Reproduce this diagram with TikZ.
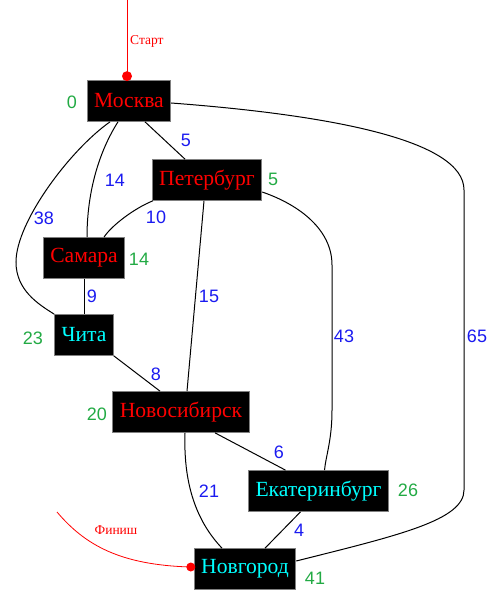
\documentclass[tikz,border=0pt]{standalone}
\usepackage{fontspec}
\setmainfont{Liberation Serif}
\newfontfamily\numfont{Liberation Sans}
\usepackage{xcolor}
\definecolor{map-red}{HTML}{FF0000}
\definecolor{map-cyan}{HTML}{00FFFF}
\definecolor{map-green}{HTML}{22AA44}
\definecolor{map-blue}{HTML}{1A1AF0}
\definecolor{map-edge}{HTML}{808080}
\usetikzlibrary{positioning,calc}

\begin{document}
\begin{tikzpicture}[
    x=1pt, y=-1pt,
    town/.style={fill=black, draw=map-edge, line width=0.7pt, text=map-red, inner xsep=7pt,
                 minimum height=41pt, font=\fontsize{21.6}{23}\selectfont},
    townlit/.style={town, text=map-cyan},
    dist/.style={text=map-green, font=\numfont\fontsize{18}{20}\selectfont, inner sep=0pt},
    cost/.style={text=map-blue, font=\numfont\fontsize{18}{20}\selectfont, inner sep=0pt},
    road/.style={draw=black, line width=1pt},
    signline/.style={draw=map-red, line width=0.8pt},
    signtext/.style={text=map-red, font=\fontsize{13.5}{15}\selectfont, inner sep=0pt},
]
\useasboundingbox (0,0) rectangle (502,601);

% towns
\node[town] (mos) at (129,101) {Москва};
\node[town] (pet) at (207,180) {Петербург};
\node[town] (sam) at (84,258) {Самара};
\node[townlit] (chi) at (84,335) {Чита};
\node[town] (nsk) at (181,412) {Новосибирск};
\node[townlit] (eka) at (318.5,491) {Екатеринбург};
\node[townlit] (ngd) at (245,569) {Новгород};

% distances
\node[dist] (d-mos) at (72,102) {0};
\node[dist] (d-pet) at (273,179) {5};
\node[dist] (d-sam) at (139,259) {14};
\node[dist] (d-chi) at (33,338) {23};
\node[dist] (d-nsk) at (97,414) {20};
\node[dist] (d-eka) at (408,490) {26};
\node[dist] (d-ngd) at (315,578) {41};

% roads
\draw[road] ([xshift=16pt]mos.south) -- ([xshift=-22pt]pet.north);
\draw[road] ([xshift=-11pt]mos.south) .. controls (100,150) and (87,190) .. ([xshift=3pt]sam.north);
\draw[road] ([xshift=-19pt]mos.south) .. controls (70,150) and (16,222) .. (16,262)
    .. controls (16,290) and (38,304) .. (chi.north west);
\draw[road] ([xshift=1pt]pet.south west) .. controls (135,208) and (112,225) .. ([xshift=20pt]sam.north);
\draw[road] (sam.south) -- (chi.north);
\draw[road] ([xshift=-3pt]pet.south) -- ([xshift=6pt]nsk.north);
\draw[road] ([yshift=-12pt]pet.east) .. controls (300,205) and (332,230) .. (332,265)
    -- (332,410) .. controls (332,440) and (326,455) .. ([xshift=6pt]eka.north);
\draw[road] ([yshift=-2pt]mos.east) .. controls (330,115) and (464,140) .. (464,190)
    -- (464,490) .. controls (464,520) and (400,535) .. ([yshift=8pt]ngd.east);
\draw[road] (chi.south east) -- ([xshift=-21pt]nsk.north);
\draw[road] ([xshift=34pt]nsk.south) -- ([xshift=-33pt]eka.north);
\draw[road] ([xshift=4pt]nsk.south) .. controls (183,490) and (200,525) .. ([xshift=-23pt]ngd.north);
\draw[road] ([xshift=-18pt]eka.south) -- ([xshift=20pt]ngd.north);

% costs
\node[cost] (c-mos-pet) at (186,140) {5};
\node[cost] (c-mos-sam) at (115,180) {14};
\node[cost] (c-mos-chi) at (44,218) {38};
\node[cost] (c-pet-sam) at (156,217) {10};
\node[cost] (c-sam-chi) at (92,296) {9};
\node[cost] (c-pet-nsk) at (209,296) {15};
\node[cost] (c-pet-eka) at (344,336) {43};
\node[cost] (c-mos-ngd) at (477,336) {65};
\node[cost] (c-chi-nsk) at (156,374) {8};
\node[cost] (c-nsk-eka) at (279,452) {6};
\node[cost] (c-nsk-ngd) at (209,491) {21};
\node[cost] (c-eka-ngd) at (299,530) {4};

% start and finish
\coordinate (start) at (127,0);
\coordinate (finish) at (57,512);
\draw[signline] (start) -- ([xshift=-2pt,yshift=4pt]mos.north);
\fill[map-red] ([xshift=-2pt,yshift=4pt]mos.north) circle (5);
\node[signtext, anchor=west] (l-start) at (130,41) {Старт};
\draw[signline] (finish) .. controls (85,545) and (120,565) .. ([xshift=-3pt,yshift=2pt]ngd.west);
\fill[map-red] ([xshift=-3pt,yshift=2pt]ngd.west) circle (4.5);
\node[signtext] (l-finish) at (116,530) {Финиш};
\end{tikzpicture}
\end{document}
